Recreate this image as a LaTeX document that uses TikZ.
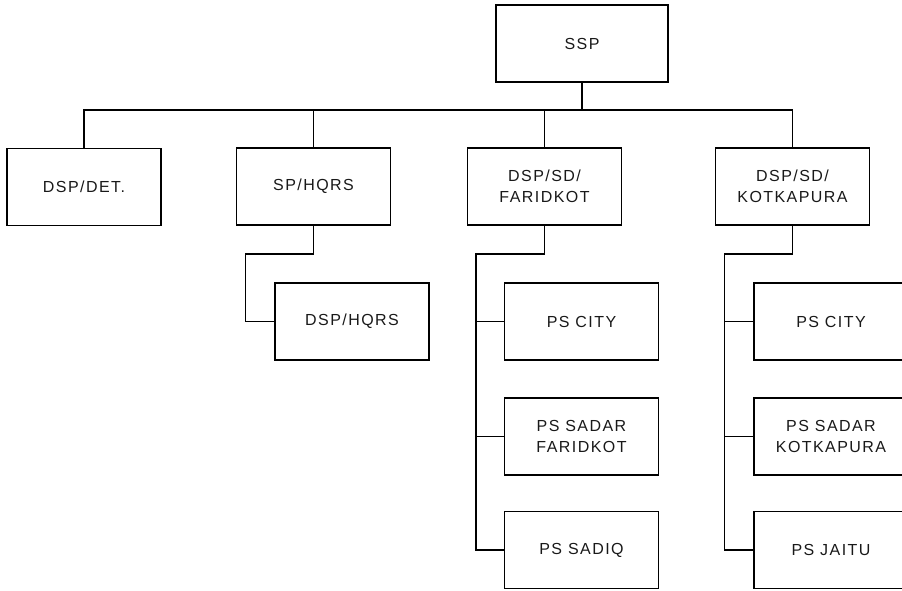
\documentclass[tikz,border=0pt]{standalone}
\usepackage{fontspec}
\setmainfont{Liberation Sans}[LetterSpace=9]
\begin{document}
\begin{tikzpicture}[x=1pt, y=-1pt, line width=1.4pt]
\tikzstyle{caixa}=[draw=black, rectangle, minimum width=154pt, minimum height=77pt, inner sep=0, align=center, text=black!90, font=\fontsize{16}{21}\selectfont]
\useasboundingbox (0,0) rectangle (902,591);
\clip (0,0) rectangle (902,591);
\node[caixa, minimum width=172pt] (ssp) at (582,43.5) {SSP};
\node[caixa] (det) at (84,187) {DSP/DET.};
\node[caixa] (hqrs) at (313.5,186.5) {SP/HQRS};
\node[caixa] (far) at (544.5,186.5) {DSP/SD/\\FARIDKOT};
\node[caixa] (kot) at (792.5,186.5) {DSP/SD/\\KOTKAPURA};
\node[caixa] (dhq) at (352,321.5) {DSP/HQRS};
\node[caixa] (fcity) at (581.5,321.5) {PS CITY};
\node[caixa] (fsadar) at (581.5,436.5) {PS SADAR\\FARIDKOT};
\node[caixa] (sadiq) at (581.5,550) {PS SADIQ};
\node[caixa] (kcity) at (831,321.5) {PS CITY};
\node[caixa] (ksadar) at (831,436.5) {PS SADAR\\KOTKAPURA};
\node[caixa] (jaitu) at (831,550) {PS JAITU};
\coordinate (bus) at (0,110);
\coordinate (sub) at (0,254);
% linha principal
\draw (ssp.south)--(ssp.south|-bus);
\draw (det.north)--(det.north|-bus)--(kot.north|-bus)--(kot.north);
\draw (hqrs.north)--(hqrs.north|-bus);
\draw (far.north)--(far.north|-bus);
% SP/HQRS
\draw (hqrs.south)--(hqrs.south|-sub)-|([xshift=-29pt]dhq.west)--(dhq.west);
% Faridkot
\draw (far.south)--(far.south|-sub)-|([xshift=-28pt]sadiq.west)--(sadiq.west);
\draw ([xshift=-28pt]fcity.west)--(fcity.west);
\draw ([xshift=-28pt]fsadar.west)--(fsadar.west);
% Kotkapura
\draw (kot.south)--(kot.south|-sub)-|([xshift=-29pt]jaitu.west)--(jaitu.west);
\draw ([xshift=-29pt]kcity.west)--(kcity.west);
\draw ([xshift=-29pt]ksadar.west)--(ksadar.west);
\end{tikzpicture}
\end{document}
